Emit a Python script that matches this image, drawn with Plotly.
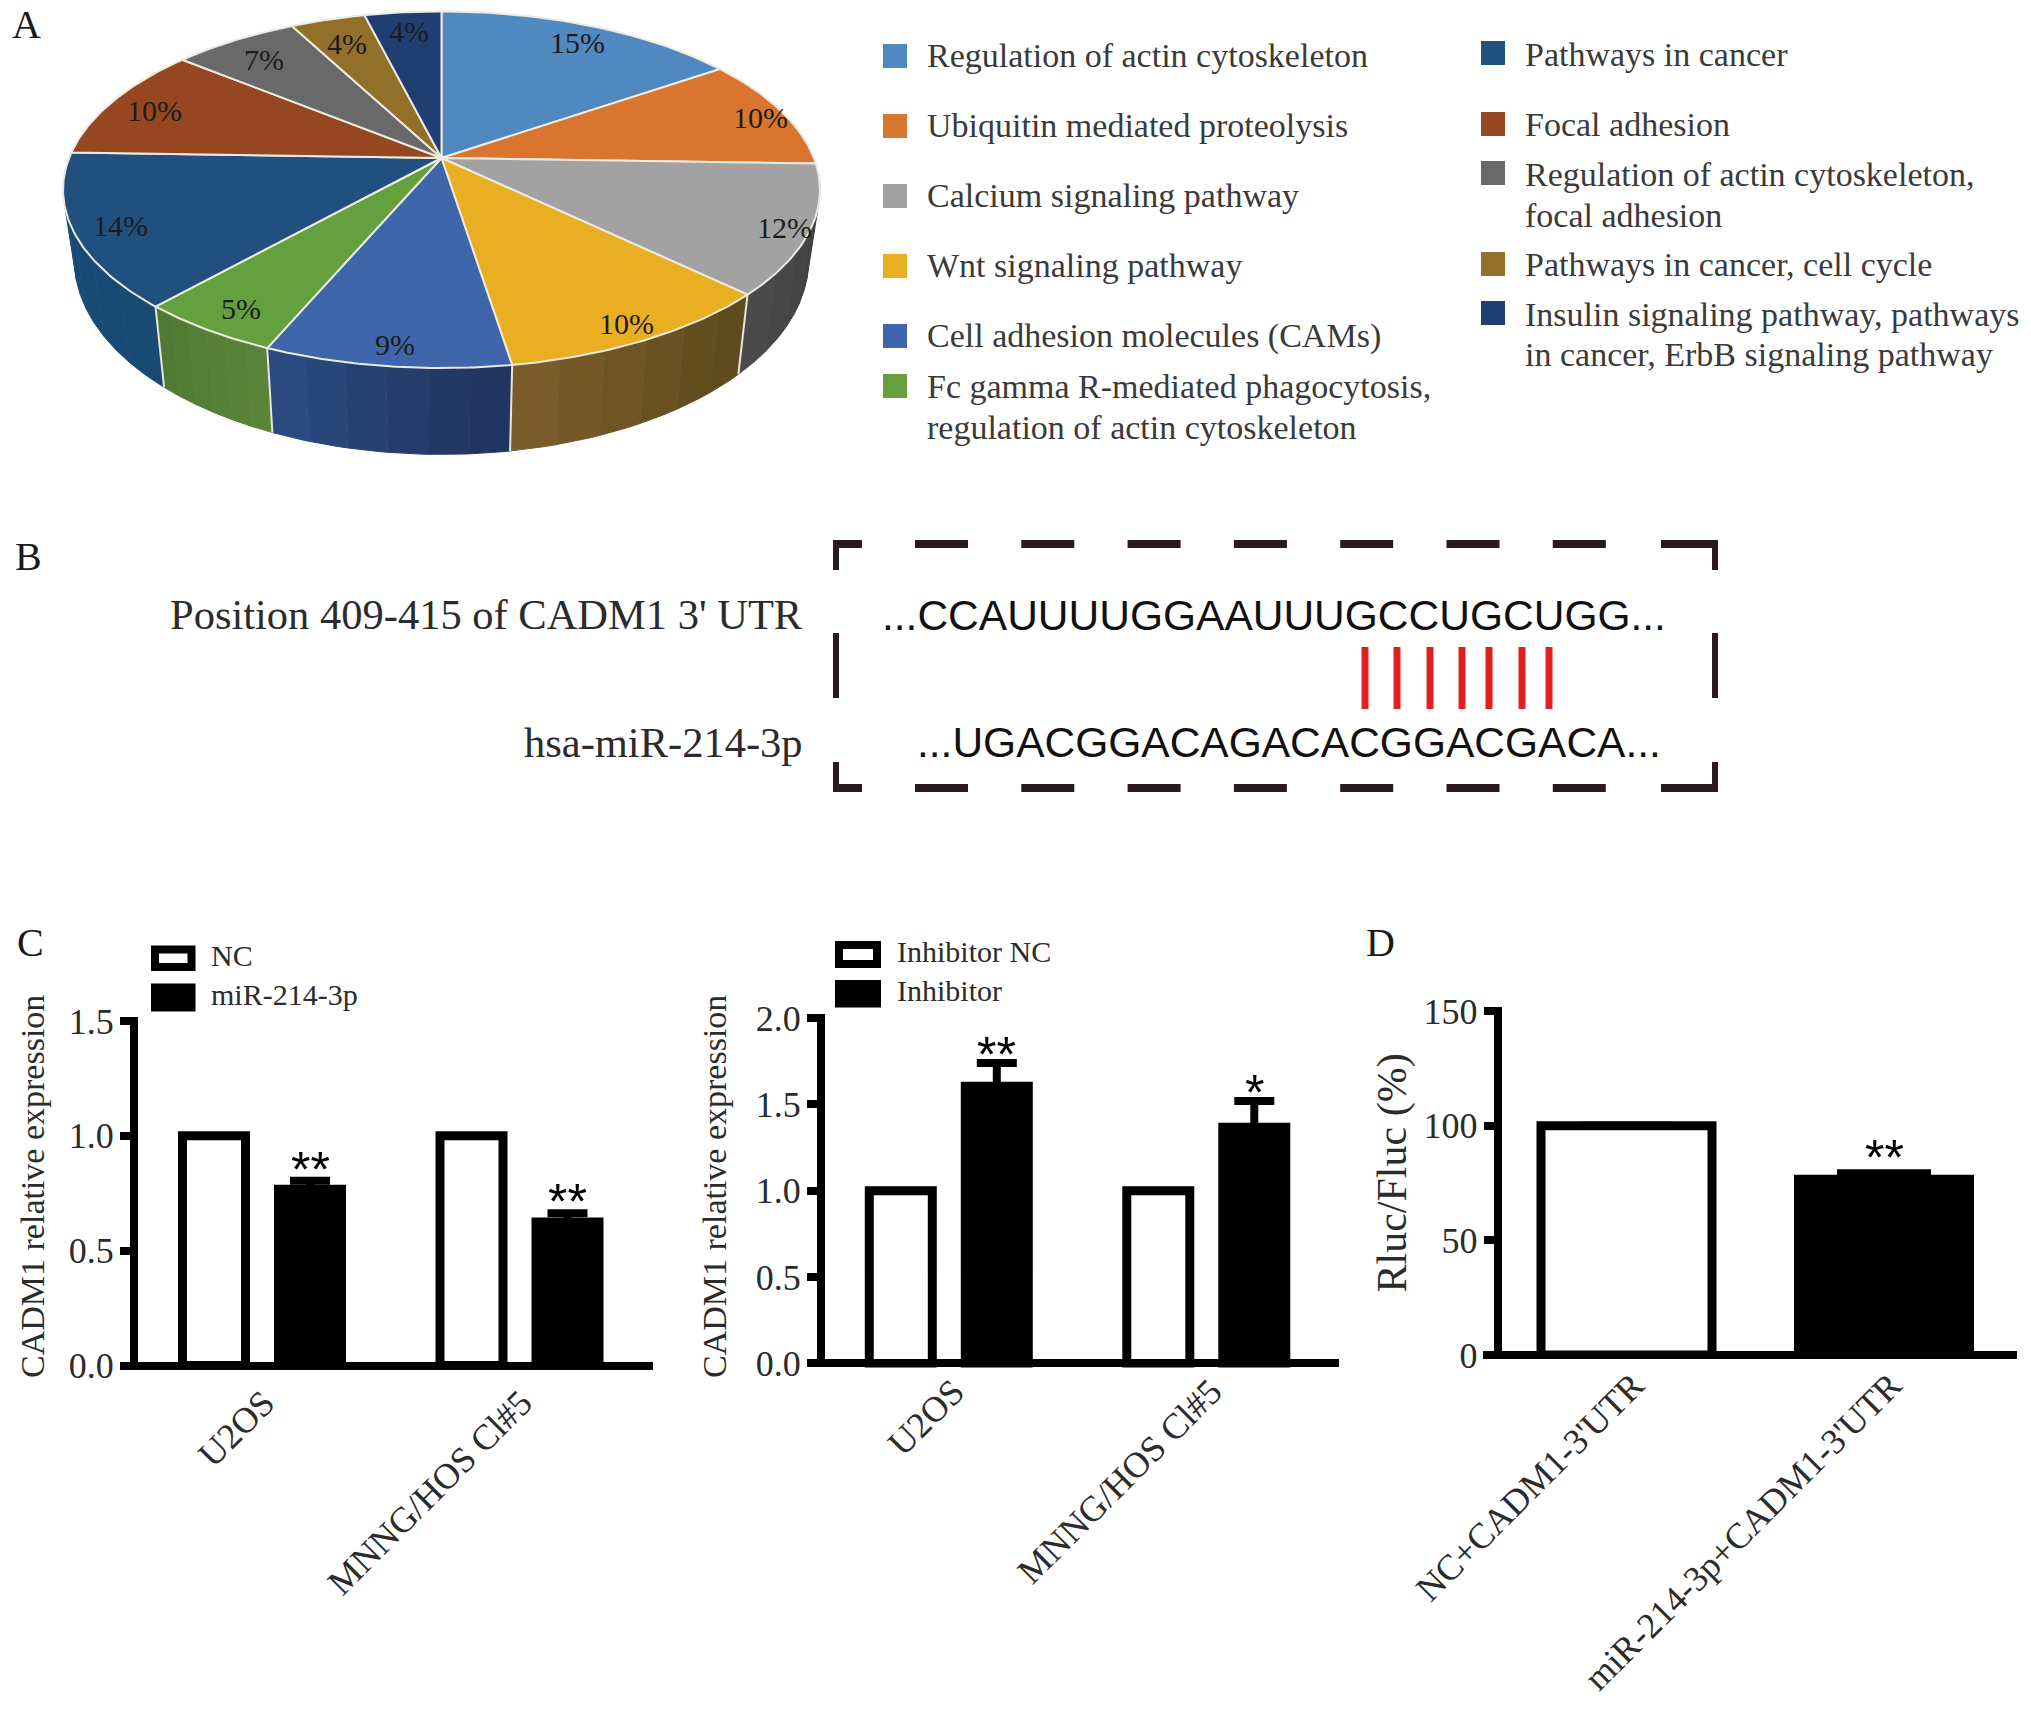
import numpy as np
import plotly.graph_objects as go

W, H = 2031, 1711

# ---------- data ----------
pie_labels = ["Regulation of actin cytoskeleton", "Ubiquitin mediated proteolysis", "Calcium signaling pathway",
              "Wnt signaling pathway", "Cell adhesion molecules (CAMs)",
              "Fc gamma R-mediated phagocytosis,<br>regulation of actin cytoskeleton",
              "Pathways in cancer", "Focal adhesion", "Regulation of actin cytoskeleton,<br>focal adhesion",
              "Pathways in cancer, cell cycle", "Insulin signaling pathway, pathways<br>in cancer, ErbB signaling pathway"]
pie_percent_text = ["15%", "10%", "12%", "10%", "9%", "5%", "14%", "10%", "7%", "4%", "4%"]
pie_values = [15.4, 10.1, 11.7, 10.3, 8.9, 5.2, 13.9, 10.4, 6.4, 3.8, 3.9]
pie_colors = ["#5089c0", "#d9752f", "#a2a2a2", "#e9ae21", "#3f66ab", "#65a03f",
              "#21507f", "#964721", "#696969", "#93702a", "#1f3f72"]
wall_left = ["#4a6a90", "#8a5a25", "#4a4a4a", "#7a5c2a", "#2a4a80", "#4f7a33", "#1a4a78", "#703418", "#505050", "#6e5420", "#172f55"]
wall_right = ["#3d5a80", "#7a4a20", "#3c3c3c", "#5f4a1e", "#203560", "#5a8538", "#184a72", "#703418", "#505050", "#6e5420", "#172f55"]

c1_groups = ["U2OS", "MNNG/HOS Cl#5"]
c1_nc = [1.0, 1.0]
c1_mir = [0.768, 0.625]
c1_mir_err = [0.037, 0.038]
c1_stars = ["**", "**"]

c2_groups = ["U2OS", "MNNG/HOS Cl#5"]
c2_nc = [1.0, 1.0]
c2_inh = [1.605, 1.368]
c2_inh_err = [0.135, 0.151]
c2_stars = ["**", "*"]

d_groups = ["NC+CADM1-3'UTR", "miR-214-3p+CADM1-3'UTR"]
d_values = [100, 76.6]
d_err = [0, 2.6]

seq_top = "...CCAUUUUGGAAUUUGCCUGCUGG..."
seq_bottom = "...UGACGGACAGACACGGACGACA..."
pairing_x = [1365, 1397, 1430, 1462, 1489, 1522, 1549]

SERIF = "Liberation Serif"
SANS = "Liberation Sans"
INK = "#2b2b2b"

fig = go.Figure()

# ---------- A: perspective pie ----------
CX, CY, RX, RY, K = 441.5, 158.0, 372.4, 172.7, 0.178


def project(theta, r=1.0):
    u, v = r * np.sin(theta), r * np.cos(theta)
    d = 1 + K * v
    return CX + RX * u / d, CY - RY * v / d


def project_low(theta):
    x, y = project(theta)
    return CX + (x - CX) * 0.97, CY + (y - CY) * 1.09 + 67.4


edges = np.cumsum([0] + pie_values) / sum(pie_values) * 2 * np.pi


def lerp(a, b, t):
    ca = [int(a[i:i + 2], 16) for i in (1, 3, 5)]
    cb = [int(b[i:i + 2], 16) for i in (1, 3, 5)]
    return "#%02x%02x%02x" % tuple(round(p + (q - p) * t) for p, q in zip(ca, cb))


# side wall, only the half facing the viewer
for i in range(len(pie_values)):
    lo, hi = max(edges[i], np.pi / 2), min(edges[i + 1], 3 * np.pi / 2)
    if hi <= lo:
        continue
    n = 6
    cuts = np.linspace(lo, hi, n + 1)
    for j in range(n):
        t = np.linspace(cuts[j], cuts[j + 1], 12)
        x1, y1 = project(t)
        x2, y2 = project_low(t)
        col = lerp(wall_right[i], wall_left[i], j / (n - 1))
        fig.add_trace(go.Scatter(x=np.r_[x1, x2[::-1]], y=np.r_[y1, y2[::-1]], fill="toself", fillcolor=col,
                                 mode="lines", line=dict(color=col, width=1), hoverinfo="skip"))
for e in edges:
    if np.pi / 2 < e < 3 * np.pi / 2:
        x1, y1 = project(e)
        x2, y2 = project_low(e)
        fig.add_trace(go.Scatter(x=[x1, x2], y=[y1, y2], mode="lines",
                                 line=dict(color="#e6e6da", width=2), hoverinfo="skip"))

# top face
for i, val in enumerate(pie_values):
    t = np.linspace(edges[i], edges[i + 1], 60)
    x, y = project(t)
    fig.add_trace(go.Scatter(x=np.r_[CX, x, CX], y=np.r_[CY, y, CY], fill="toself", fillcolor=pie_colors[i],
                             mode="lines", line=dict(color="#ecebdf", width=2), name=pie_labels[i].replace("<br>", " "),
                             hoverinfo="name"))

annotations = []


def text(x, y, s, size=34, color=INK, family=SERIF, xanchor="left", **kw):
    annotations.append(dict(x=x, y=y, xref="x", yref="y", text=s, showarrow=False, xanchor=xanchor, yanchor="middle",
                            font=dict(family=family, size=size, color=color), **kw))


label_radius = [0.88, 0.93, 0.93, 0.91, 0.90, 0.88, 0.884, 0.875, 0.85, 0.83, 0.87]
for i, lab in enumerate(pie_percent_text):
    mid = (edges[i] + edges[i + 1]) / 2
    lx, ly = project(mid, label_radius[i])
    text(lx + 2, ly + 3, lab, size=30, color="#1c1c1c", xanchor="center")

# legend of A
shapes = []
swatch_left = [(56, 55.5, []), (126, 125.5, []), (196, 195.5, []), (266, 265.5, []), (336, 335.5, []), (386, 386.5, [427.5])]
swatch_right = [(53, 54.5, []), (124, 124.5, []), (173, 174.5, [215.5]), (264, 264.5, []), (313, 314.5, [354.5])]
for i, lab in enumerate(pie_labels):
    if i < 6:
        (sy, ty, more), x0, tx = swatch_left[i], 883, 925
    else:
        (sy, ty, more), x0, tx = swatch_right[i - 6], 1481, 1523
    shapes.append(dict(type="rect", xref="x", yref="y", x0=x0, x1=x0 + 24, y0=sy - 12, y1=sy + 12,
                       fillcolor=pie_colors[i], line=dict(width=0)))
    for s, yy in zip(lab.split("<br>"), [ty] + more):
        text(tx, yy, s, color="#3a3a3a")

# panel letters
for letter, lx, ly in [("A", 26, 24), ("B", 28, 556), ("C", 30, 942), ("D", 1380, 942)]:
    text(lx, ly, letter, size=40, color="#1a1a1a", xanchor="center")

# ---------- B ----------
text(805, 614, "Position 409-415 of CADM1 3' UTR", size=42.5, xanchor="right")
text(805, 742, "hsa-miR-214-3p", size=42.5, xanchor="right")
text(880, 615, seq_top, size=42.5, family=SANS, color="#111111")
text(915, 742, seq_bottom, size=42.5, family=SANS, color="#111111")
for px in pairing_x:
    shapes.append(dict(type="line", xref="x", yref="y", x0=px, x1=px, y0=647, y1=709,
                       line=dict(color="#e0201f", width=7)))
# dashed frame
FR = dict(l=836, r=1715, t=544, b=788)
DASH = "#2a1a1f"
hsegs = [(FR["l"], FR["l"] + 26)] + [(915 + k * 106.3, 915 + k * 106.3 + 53) for k in range(7)]
hsegs = hsegs + [(1661, FR["r"])]
for a, b in hsegs:
    for yy in (FR["t"], FR["b"]):
        shapes.append(dict(type="line", xref="x", yref="y", x0=a, x1=b, y0=yy, y1=yy, line=dict(color=DASH, width=8)))
for a, b in [(FR["t"] - 4, 570), (633, 698), (762, FR["b"] + 4)]:
    for xx in (FR["l"], FR["r"]):
        shapes.append(dict(type="line", xref="x", yref="y", x0=xx, x1=xx, y0=a, y1=b, line=dict(color=DASH, width=6)))


# ---------- C, D: bar panels ----------
LW = 8


def bar_axes(n, x0, x1, top, baseline, spine, cat0, spacing, ymax, dtick, tickfmt, shift, standoff):
    # the baseline is the y axis' zero line, centred on y=0; half a line of head and foot room is kept
    unit = (baseline - top) / ymax
    pad = LW / 2
    ax = dict(domain=[x0 / W, x1 / W], range=[(x0 - cat0) / spacing, (x1 - cat0) / spacing], anchor=f"y{n}",
              showgrid=False, zeroline=False, showline=False, ticks="",
              tickangle=-45, tickfont=dict(family=SERIF, size=36, color=INK), ticklabelshift=shift,
              ticklabelstandoff=standoff, type="category", automargin=False)
    ay = dict(domain=[1 - (baseline + pad) / H, 1 - (top - pad) / H], range=[-pad / unit, ymax + pad / unit],
              anchor="free", position=spine / W, showgrid=False,
              zeroline=True, zerolinewidth=LW, zerolinecolor="black",
              showline=True, linecolor="black", linewidth=LW, ticks="outside", ticklen=10, tickwidth=LW,
              tickcolor="black", tickmode="array", tickvals=[dtick * k for k in range(int(round(ymax / dtick)) + 1)],
              tickformat=tickfmt, tickfont=dict(family=SERIF, size=36, color=INK), ticklabelstandoff=-1,
              automargin=False)
    fig.update_layout({f"xaxis{n}": ax, f"yaxis{n}": ay})


def stars(n, x, y, s, yshift):
    annotations.append(dict(x=x, y=y, xref=f"x{n}", yref=f"y{n}", text=s, showarrow=False, yanchor="bottom",
                            xanchor="center", yshift=yshift, font=dict(family=SANS, size=50, color="black")))


SP = 257.5
BW = 63 / SP
OFF = 48 / SP


def grouped(n, groups, white, black, err, marks, star_shift):
    common = dict(x=groups, xaxis=f"x{n}", yaxis=f"y{n}", width=BW, hoverinfo="x+y")
    fig.add_trace(go.Bar(y=white, offset=-OFF - BW / 2, marker=dict(color="white", line=dict(color="black", width=9)), **common))
    fig.add_trace(go.Bar(y=black, offset=OFF - BW / 2, marker=dict(color="black", line=dict(color="black", width=9)),
                         error_y=dict(type="data", array=err, arrayminus=[0] * len(err), symmetric=False, color="black",
                                      thickness=8, width=20), **common))
    for i, (v, e, m) in enumerate(zip(black, err, marks)):
        stars(n, i + OFF, v + e, m, star_shift)


bar_axes(2, 120, 653, 1021, 1365.6, 134, 262, SP, 1.5, 0.5, ".1f", 2, 4)
grouped(2, c1_groups, c1_nc, c1_mir, c1_mir_err, c1_stars, -19)
text(32, 1187, "CADM1 relative expression", size=34, xanchor="center", textangle=-90)

bar_axes(3, 807, 1339, 1018, 1363.4, 821, 948.8, SP, 2.0, 0.5, ".1f", 5, -5)
grouped(3, c2_groups, c2_nc, c2_inh, c2_inh_err, c2_stars, -22)
text(714, 1187, "CADM1 relative expression", size=34, xanchor="center", textangle=-90)

bar_axes(4, 1483, 2016.5, 1011, 1355, 1497.8, 1626.5, SP, 150, 50, "d", 7, -3)
DW = 171 / SP
fig.add_trace(go.Bar(x=d_groups, y=d_values, xaxis="x4", yaxis="y4", width=DW, offset=-DW / 2,
                     marker=dict(color=["white", "black"], line=dict(color="black", width=9)),
                     error_y=dict(type="data", array=d_err, arrayminus=[0, 0], symmetric=False, color="black",
                                  thickness=8, width=47)))
stars(4, 1, d_values[1] + d_err[1], "**", -15)
text(1392, 1173.5, "Rluc/Fluc (%)", size=42, xanchor="center", textangle=-90)


# bar panel legends
def bar_legend(x0, x1, rows, tx):
    for (label, fill, top, bottom) in rows:
        shapes.append(dict(type="rect", xref="x", yref="y", x0=x0 + 4, x1=x1 - 4, y0=top + 4, y1=bottom - 4,
                           fillcolor=fill, line=dict(color="black", width=8)))
        text(tx, (top + bottom) / 2 - 3, label, size=30, color=INK)


bar_legend(151, 195.5, [("NC", "white", 945.5, 971), ("miR-214-3p", "black", 983.5, 1011.5)], 209)
bar_legend(835, 881, [("Inhibitor NC", "white", 941, 968), ("Inhibitor", "black", 980, 1007.6)], 895)

fig.update_layout(
    template="none",
    width=W, height=H, margin=dict(l=0, r=0, t=0, b=0, pad=0, autoexpand=False), paper_bgcolor="white",
    plot_bgcolor="rgba(0,0,0,0)",
    showlegend=False, barmode="overlay", annotations=annotations, shapes=shapes,
    xaxis=dict(domain=[0, 1], range=[0, W], visible=False, fixedrange=True, automargin=False),
    yaxis=dict(domain=[0, 1], range=[H, 0], visible=False, fixedrange=True, automargin=False),
)
fig.write_html("out.html", post_script="document.body.style.margin='0';", config=dict(displayModeBar=False))
